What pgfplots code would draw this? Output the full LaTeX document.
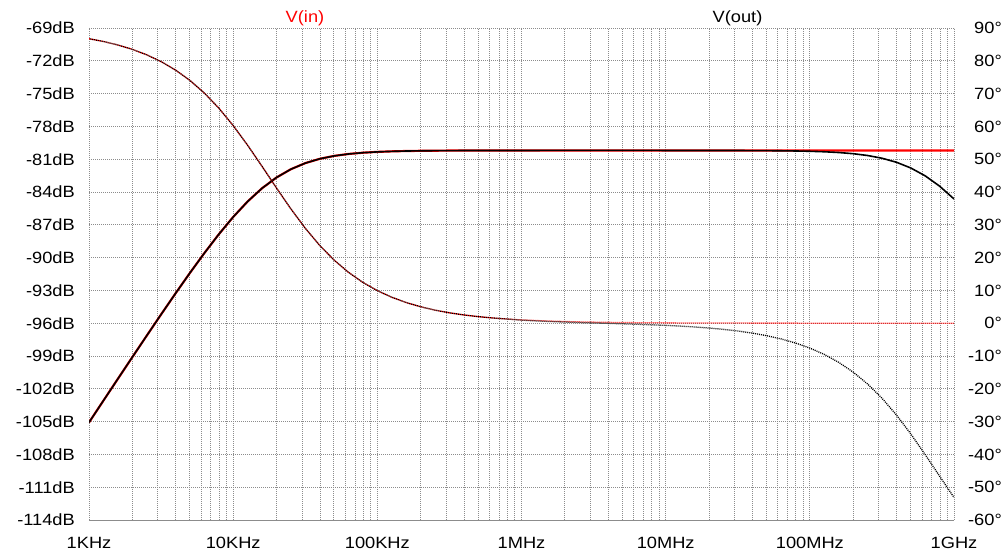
\documentclass[border=0pt]{standalone}
\usepackage{pgfplots}
\pgfplotsset{compat=1.18}
\usepackage{pgfplotstable}
\usepackage{fontspec}
\setmainfont{Liberation Sans}[FakeStretch=1.12]

\definecolor{gridgray}{RGB}{140,140,140}
\definecolor{tracered}{RGB}{255,0,0}

% columns: frequency (Hz), magnitude (dB), phase (deg)
\pgfplotstableread{
f        mag      ph
1e3      -105.075 86.730
1.2589e3 -103.083 85.885
1.5849e3 -101.096 84.825
1.9953e3 -99.117  83.495
2.5119e3 -97.150  81.831
3.1623e3 -95.201  79.756
3.9811e3 -93.280  77.183
5.0119e3 -91.403  74.018
6.3096e3 -89.592  70.174
7.9433e3 -87.875  65.586
1e4      -86.288  60.256
1.2589e4 -84.872  54.267
1.5849e4 -83.662  47.837
1.9953e4 -82.679  41.251
2.5119e4 -81.919  34.864
3.1623e4 -81.361  28.960
3.9811e4 -80.968  23.727
5.0119e4 -80.700  19.246
6.3096e4 -80.523  15.500
7.9433e4 -80.407  12.423
1e5      -80.332  9.925
1.2589e5 -80.284  7.913
1.5849e5 -80.253  6.301
1.9953e5 -80.234  5.012
2.5119e5 -80.221  3.985
3.1623e5 -80.213  3.167
3.9811e5 -80.208  2.517
5.0119e5 -80.205  2.000
6.3096e5 -80.203  1.589
7.9433e5 -80.202  1.262
1e6      -80.201  1.002
1.5849e6 -80.200  0.633
2.5119e6 -80.200  0.399
3.9811e6 -80.200  0.252
6.3096e6 -80.200  0.159
1e7      -80.200  0.100
3.1623e7 -80.200  0.032
1e8      -80.200  0.010
3.1623e8 -80.200  0.003
1e9      -80.200  0.001
}\vin

\pgfplotstableread{
f        mag      ph
1e3      -105.075 86.730
1.2589e3 -103.083 85.885
1.5849e3 -101.096 84.825
1.9953e3 -99.117  83.495
2.5119e3 -97.150  81.831
3.1623e3 -95.201  79.756
3.9811e3 -93.280  77.183
5.0119e3 -91.403  74.018
6.3096e3 -89.592  70.174
7.9433e3 -87.875  65.586
1e4      -86.288  60.256
1.2589e4 -84.872  54.267
1.5849e4 -83.662  47.837
1.9953e4 -82.679  41.251
2.5119e4 -81.919  34.864
3.1623e4 -81.361  28.960
3.9811e4 -80.968  23.727
5.0119e4 -80.700  19.246
6.3096e4 -80.523  15.500
7.9433e4 -80.407  12.423
1e5      -80.332  9.925
1.2589e5 -80.284  7.913
1.5849e5 -80.253  6.301
1.9953e5 -80.234  5.012
2.5119e5 -80.221  3.985
3.1623e5 -80.213  3.167
3.9811e5 -80.208  2.517
5.0119e5 -80.205  2.000
6.3096e5 -80.203  1.589
7.9433e5 -80.202  1.262
1e6      -80.201  0.926
1.2589e6 -80.201  0.700
1.5849e6 -80.200  0.512
1.9953e6 -80.200  0.351
2.5119e6 -80.200  0.207
3.1623e6 -80.200  0.075
3.9811e6 -80.200  -0.052
5.0119e6 -80.200  -0.183
6.3096e6 -80.200  -0.323
7.9433e6 -80.200  -0.481
1e7      -80.201  -0.664
1.2589e7 -80.201  -0.882
1.5849e7 -80.202  -1.148
1.9953e7 -80.203  -1.474
2.5119e7 -80.205  -1.878
3.1623e7 -80.208  -2.382
3.9811e7 -80.212  -3.013
5.0119e7 -80.219  -3.803
6.3096e7 -80.231  -4.793
7.9433e7 -80.249  -6.033
1e8      -80.277  -7.585
1.2589e8 -80.321  -9.520
1.5849e8 -80.390  -11.926
1.9953e8 -80.497  -14.893
2.5119e8 -80.662  -18.511
3.1623e8 -80.911  -22.856
3.9811e8 -81.278  -27.958
5.0119e8 -81.803  -33.749
6.3096e8 -82.524  -40.072
7.9433e8 -83.467  -46.640
1e9      -84.637  -53.129
}\vout

\tikzset{dotgrid/.style={draw=gridgray, line width=0.9bp, dash pattern=on 1bp off 1bp}}
\newcommand{\labelfont}{\fontsize{16.3bp}{19bp}\selectfont}

\begin{document}
\begin{tikzpicture}[x=1bp,y=1bp]
\useasboundingbox (-89,-35) rectangle (919,520);

% magnitude, left axis
\begin{axis}[
  scale only axis, width=865bp, height=492bp,
  xmode=log, xmin=1e3, xmax=1e9,
  major tick length=0pt, minor tick length=0pt,
  tick label style={font=\labelfont, inner sep=0pt},
  ymin=-114, ymax=-69,
  ytick={-114,-111,-108,-105,-102,-99,-96,-93,-90,-87,-84,-81,-78,-75,-72,-69},
  yticklabels={-114dB,-111dB,-108dB,-105dB,-102dB,-99dB,-96dB,-93dB,-90dB,-87dB,-84dB,-81dB,-78dB,-75dB,-72dB,-69dB},
  xtick={1e3,1e4,1e5,1e6,1e7,1e8,1e9},
  xticklabels={1KHz,10KHz,100KHz,1MHz,10MHz,100MHz,1GHz},
  xticklabel shift=17bp, yticklabel shift=14bp,
  yticklabel style={anchor=east},
  xmajorgrids, xminorgrids, ymajorgrids,
  grid style={dotgrid}, minor grid style={dotgrid}, major grid style={dotgrid},
  axis line style={dotgrid},
]
\addplot[tracered, line width=2.2bp, line join=round] table[x=f, y=mag] {\vin};
\addplot[black, line width=1.6bp, line join=round] table[x=f, y=mag] {\vout};
\end{axis}

% phase, right axis
\begin{axis}[
  scale only axis, width=865bp, height=492bp,
  xmode=log, xmin=1e3, xmax=1e9,
  major tick length=0pt, minor tick length=0pt,
  tick label style={font=\labelfont, inner sep=0pt},
  hide x axis,
  axis line style={draw=none},
  ymin=-60, ymax=90,
  ytick={-60,-50,-40,-30,-20,-10,0,10,20,30,40,50,60,70,80,90},
  yticklabels={-60°,-50°,-40°,-30°,-20°,-10°,0°,10°,20°,30°,40°,50°,60°,70°,80°,90°},
  yticklabel pos=right,
  yticklabel shift=48bp,
  yticklabel style={anchor=east},
]
\addplot[tracered, line width=1.3bp, dash pattern=on 1bp off 1bp] table[x=f, y=ph] {\vin};
\addplot[black, line width=1.3bp, dash pattern=on 1bp off 1bp, dash phase=1bp] table[x=f, y=ph] {\vout};
\end{axis}

\node[anchor=base, text=tracered, font=\labelfont] at (216,497.5) {V(in)};
\node[anchor=base, text=black, font=\labelfont] at (648.5,497.5) {V(out)};
\end{tikzpicture}
\end{document}
